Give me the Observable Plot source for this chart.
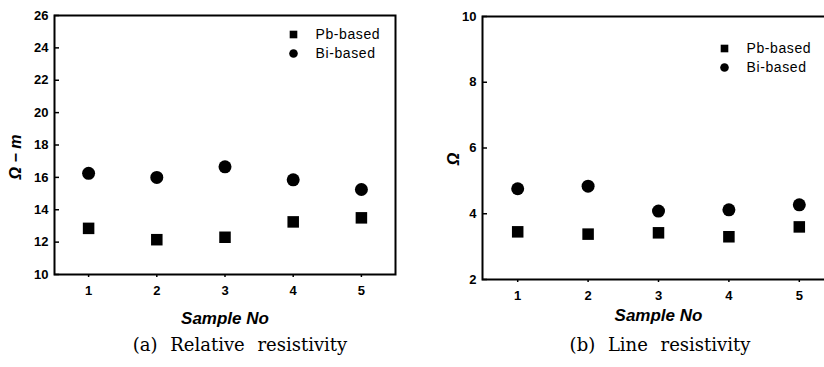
<!DOCTYPE html>
<html><head><meta charset="utf-8">
<script src="https://cdn.jsdelivr.net/npm/d3@7"></script>
<script src="https://cdn.jsdelivr.net/npm/@observablehq/plot@0.6"></script>
<style>
html,body{margin:0;padding:0;overflow:hidden;background:#fff;}
#wrap{position:relative;width:824px;height:367px;overflow:hidden;}
.panel{position:absolute;top:0;}
.panel svg{max-width:none !important;}
.cap{position:absolute;top:334px;font-family:"DejaVu Serif","Liberation Serif",serif;font-size:18px;word-spacing:7px;transform:translateX(-50%);white-space:nowrap;color:#000;}
</style></head><body><div id="wrap"></div>
<script>
const samples = [1, 2, 3, 4, 5];
const relPb = [12.85, 12.15, 12.3, 13.25, 13.5];
const relBi = [16.25, 16.0, 16.65, 15.85, 15.25];
const linePb = [3.45, 3.38, 3.42, 3.3, 3.6];
const lineBi = [4.76, 4.84, 4.08, 4.12, 4.27];
const relTicks = [10, 12, 14, 16, 18, 20, 22, 24, 26];
const lineTicks = [2, 4, 6, 8, 10];
const seriesNames = ["Pb-based", "Bi-based"];
const xTitle = "Sample No";
const captions = ["(a) Relative resistivity", "(b) Line resistivity"];

function panel(o) {
  const rows = [];
  samples.forEach((s, i) => {
    rows.push({sample: s, value: o.pb[i], series: seriesNames[0]});
    rows.push({sample: s, value: o.bi[i], series: seriesNames[1]});
  });
  const plotW = o.width - o.ml - o.mr;
  const svg = Plot.plot({
    width: o.width, height: o.height,
    marginLeft: o.ml, marginRight: o.mr, marginTop: o.mt, marginBottom: o.mb,
    style: {fontFamily: "'Liberation Sans', Arial, sans-serif", fontSize: "12px", color: "#000", background: "#fff", overflow: "visible", maxWidth: "none"},
    x: {domain: [0.5, 5.5]},
    y: {domain: [o.ticks[0], o.ticks[o.ticks.length - 1]]},
    symbol: {domain: seriesNames, range: ["square", "circle"]},
    marks: [
      Plot.ruleY(o.ticks, {stroke: "#000", strokeWidth: 1.5, insetRight: plotW - 5}),
      Plot.axisY(o.ticks, {anchor: "left", tickSize: 0, tickPadding: 6, fontWeight: "bold", fontSize: 13, fill: "#000", label: null}),
      Plot.axisX(samples, {anchor: "bottom", tickSize: 3, tickPadding: 8, fontWeight: "bold", fontSize: 13, fill: "#000", stroke: "#000", strokeWidth: 1.5, label: null}),
      Plot.frame({stroke: "#000", strokeWidth: 2}),
      Plot.dot(rows, {x: "sample", y: "value", symbol: "series", r: 6.5, fill: "#000", stroke: "none"}),
      Plot.dot([seriesNames[0]], {symbol: d => d, frameAnchor: "top-right", dx: o.lgx, dy: o.lgy, r: 4.3, fill: "#000", stroke: "none"}),
      Plot.dot([seriesNames[1]], {symbol: d => d, frameAnchor: "top-right", dx: o.lgx, dy: o.lgy + 19, r: 4.3, fill: "#000", stroke: "none"}),
      Plot.text([seriesNames[0]], {frameAnchor: "top-right", dx: o.lgx + 22, dy: o.lgy, text: d => d, textAnchor: "start", lineAnchor: "middle", fontSize: 14, fill: "#000"}),
      Plot.text([seriesNames[1]], {frameAnchor: "top-right", dx: o.lgx + 22, dy: o.lgy + 19, text: d => d, textAnchor: "start", lineAnchor: "middle", fontSize: 14, fill: "#000"}),
      Plot.text([xTitle], {frameAnchor: "bottom", dy: o.xtdy, text: d => d, textAnchor: "middle", lineAnchor: "middle", fontWeight: "bold", fontStyle: "italic", fontSize: 17, fill: "#000"}),
      Plot.text([o.yLabel], {frameAnchor: "left", dx: o.ytdx, dy: o.ytdy, rotate: -90, text: d => d, textAnchor: "middle", lineAnchor: "middle", fontWeight: "bold", fontStyle: "italic", fontSize: 16, fill: "#000"})
    ]
  });
  svg.querySelectorAll("text").forEach(t => {
    if (seriesNames.includes(t.textContent)) t.setAttribute("letter-spacing", "0.6");
  });
  return svg;
}

const wrap = document.getElementById("wrap");
const specs = [
  {left: 0, width: 412, height: 330, ml: 54, mr: 17, mt: 15, mb: 56, pb: relPb, bi: relBi, ticks: relTicks,
   yLabel: "Ω − m", lgx: -102, lgy: 19, xtdy: 44, ytdx: -39, ytdy: 12, cap: 240},
  {left: 412, width: 440, height: 330, ml: 70, mr: 18, mt: 16, mb: 51, pb: linePb, bi: lineBi, ticks: lineTicks,
   yLabel: "Ω", lgx: -110, lgy: 32, xtdy: 36, ytdx: -29, ytdy: 11, cap: 248}
];
specs.forEach((s, k) => {
  const div = document.createElement("div");
  div.className = "panel";
  div.style.left = s.left + "px";
  div.style.width = s.width + "px";
  div.appendChild(panel(s));
  wrap.appendChild(div);
  const cap = document.createElement("div");
  cap.className = "cap";
  cap.style.left = (s.left + s.cap) + "px";
  cap.textContent = captions[k];
  wrap.appendChild(cap);
});
</script></body></html>
